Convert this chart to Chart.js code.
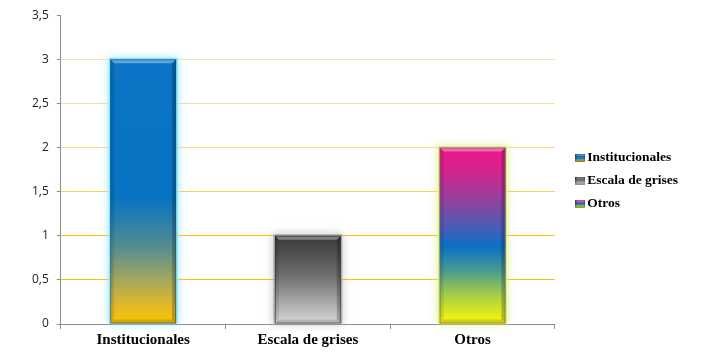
<!DOCTYPE html>
<html>
<head>
<meta charset="utf-8">
<script src="https://cdn.jsdelivr.net/npm/chart.js@4/dist/chart.umd.min.js"></script>
<style>
  html, body { margin: 0; padding: 0; background: #fff; }
  #wrap { width: 702px; height: 352px; }
</style>
</head>
<body>
<div id="wrap"><canvas id="c" width="702" height="352"></canvas></div>
<script>
// Categories and values
const categories = ['Institucionales', 'Escala de grises', 'Otros'];
const values = [3, 1, 2];
const yTicks = [0, 0.5, 1, 1.5, 2, 2.5, 3, 3.5];

// Gridline colour for each y tick (same order as yTicks)
const gridColors = ['rgba(0,0,0,0)', '#ffc000', '#ffc000', '#ffd24d', '#fdd877', '#f8df9a', '#f6e3ad', 'rgba(0,0,0,0)'];

// Vertical colour ramps for each bar (top -> bottom)
const barRamps = [
  [[0, '#0b74c6'], [0.52, '#0873c2'], [0.62, '#2d80a8'], [0.72, '#5a8f8c'], [0.84, '#a8a85a'], [0.93, '#e0ba28'], [1, '#ffc400']],
  [[0, '#383838'], [0.45, '#6e6e6e'], [1, '#d9d9d9']],
  [[0, '#ea1889'], [0.12, '#d9228c'], [0.32, '#8a45a0'], [0.45, '#4b5bb6'], [0.56, '#0a70c4'], [0.70, '#4a9c90'], [0.84, '#a9d044'], [1, '#fbfb08']]
];
const glowColors = ['rgba(140,228,252,0.95)', 'rgba(160,160,160,0.8)', 'rgba(215,240,120,0.95)'];
const edgeColors = ['#0a4f86', '#2a2a2a', '#7a5a70'];

function rampGradient(ctx, y0, y1, ramp) {
  const g = ctx.createLinearGradient(0, y0, 0, y1);
  ramp.forEach(([o, c]) => g.addColorStop(o, c));
  return g;
}

function legendSwatch(ramp) {
  const cv = document.createElement('canvas');
  cv.width = 10; cv.height = 8;
  const c = cv.getContext('2d');
  c.fillStyle = rampGradient(c, 0, 8, ramp);
  c.fillRect(0, 0, 10, 8);
  c.strokeStyle = 'rgba(0,0,0,0.3)';
  c.strokeRect(0.5, 0.5, 9, 7);
  c.fillStyle = 'rgba(255,255,255,0.45)';
  c.fillRect(1, 1, 8, 1);
  return cv;
}
const swatches = barRamps.map(legendSwatch);

// Leave a gap between the plot and the legend column
const legendShift = {
  id: 'legendShift',
  afterLayout(chart) {
    const lg = chart.legend;
    if (!lg) return;
    lg.left += 16; lg.right += 16;
    lg.top += 1; lg.bottom += 1;
  }
};

// Glow behind the bars, bevel on top of them
const glowPlugin = {
  id: 'barGlow',
  beforeDatasetDraw(chart) {
    const ctx = chart.ctx;
    chart.getDatasetMeta(0).data.forEach((bar, i) => {
      const left = bar.x - bar.width / 2;
      ctx.save();
      ctx.shadowColor = glowColors[i];
      ctx.shadowBlur = 8;
      ctx.fillStyle = glowColors[i];
      ctx.fillRect(left - 1.5, bar.y - 1.5, bar.width + 3, bar.base - bar.y + 1.5);
      ctx.restore();
    });
  },
  afterDatasetDraw(chart) {
    const ctx = chart.ctx;
    chart.getDatasetMeta(0).data.forEach((bar, i) => {
      const l = bar.x - bar.width / 2, r = bar.x + bar.width / 2;
      const t = bar.y, b = bar.base;
      const bw = 4;
      ctx.save();
      ctx.beginPath();
      ctx.moveTo(l, t); ctx.lineTo(r, t); ctx.lineTo(r - bw, t + bw); ctx.lineTo(l + bw, t + bw); ctx.closePath();
      ctx.fillStyle = 'rgba(255,255,255,0.35)';
      ctx.fill();
      ctx.beginPath();
      ctx.moveTo(l, t); ctx.lineTo(l + bw, t + bw); ctx.lineTo(l + bw, b - bw); ctx.lineTo(l, b); ctx.closePath();
      ctx.fillStyle = 'rgba(0,0,0,0.10)';
      ctx.fill();
      ctx.beginPath();
      ctx.moveTo(r, t); ctx.lineTo(r - bw, t + bw); ctx.lineTo(r - bw, b - bw); ctx.lineTo(r, b); ctx.closePath();
      ctx.fillStyle = 'rgba(0,0,0,0.22)';
      ctx.fill();
      ctx.beginPath();
      ctx.moveTo(l, b); ctx.lineTo(r, b); ctx.lineTo(r - bw, b - bw); ctx.lineTo(l + bw, b - bw); ctx.closePath();
      ctx.fillStyle = 'rgba(0,0,0,0.15)';
      ctx.fill();
      ctx.strokeStyle = edgeColors[i];
      ctx.globalAlpha = 0.6;
      ctx.lineWidth = 1;
      ctx.strokeRect(l + 0.5, t + 0.5, bar.width - 1, b - t - 1);
      ctx.restore();
    });
  }
};

new Chart(document.getElementById('c'), {
  type: 'bar',
  data: {
    labels: categories,
    datasets: [{
      data: values,
      backgroundColor(context) {
        const chart = context.chart;
        if (!chart.chartArea) return '#0070c0';
        const y = chart.scales.y;
        const top = y.getPixelForValue(values[context.dataIndex]);
        const base = y.getPixelForValue(0);
        return rampGradient(chart.ctx, top, base, barRamps[context.dataIndex]);
      },
      borderWidth: 0,
      categoryPercentage: 1,
      barPercentage: 0.4
    }]
  },
  options: {
    responsive: false,
    animation: false,
    layout: { padding: { top: 8, right: 30, left: 24, bottom: 1 } },
    plugins: {
      tooltip: { enabled: false },
      legend: {
        position: 'right',
        align: 'center',
        labels: {
          usePointStyle: true,
          pointStyleWidth: 0.1,
          boxHeight: 8,
          padding: 9.5,
          color: '#000',
          font: { family: '"Liberation Serif", "Times New Roman", serif', size: 13.5, weight: 'bold' },
          generateLabels() {
            return categories.map((c, i) => ({
              text: c,
              pointStyle: swatches[i],
              fillStyle: '#000',
              strokeStyle: 'rgba(0,0,0,0)',
              lineWidth: 0,
              hidden: false,
              index: i
            }));
          }
        }
      }
    },
    scales: {
      x: {
        grid: {
          offset: true,
          drawOnChartArea: false,
          tickLength: 5,
          color: '#8c8c8c'
        },
        border: { color: '#8c8c8c' },
        ticks: {
          color: '#000',
          padding: 2,
          font: { family: '"Liberation Serif", "Times New Roman", serif', size: 15, weight: 'bold' }
        }
      },
      y: {
        min: 0,
        max: 3.5,
        afterBuildTicks(scale) { scale.ticks = yTicks.map(v => ({ value: v })); },
        grid: {
          color: (c) => gridColors[c.index] || 'rgba(0,0,0,0)',
          tickColor: '#8c8c8c',
          tickLength: 4,
          lineWidth: 1
        },
        border: { color: '#8c8c8c' },
        ticks: {
          color: '#222',
          padding: 8,
          font: { family: '"Open Sans", "Liberation Sans", sans-serif', size: 12 },
          callback: (v) => String(v).replace('.', ',')
        }
      }
    }
  },
  plugins: [glowPlugin, legendShift]
});
</script>
</body>
</html>
